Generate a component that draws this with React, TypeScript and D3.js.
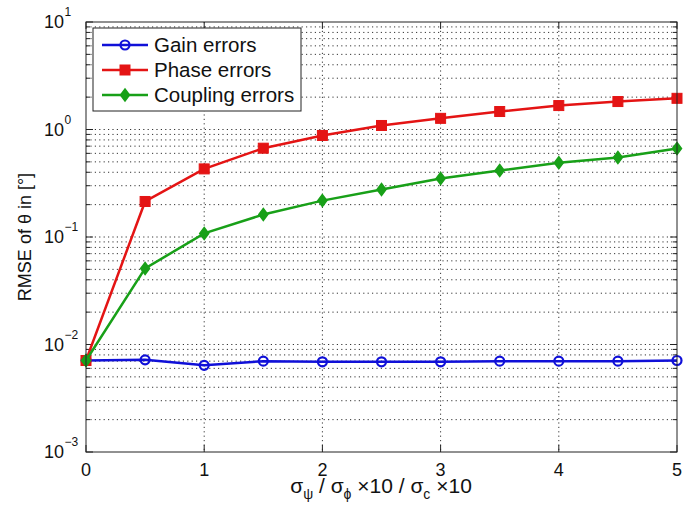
import React from "react";
import * as d3 from "d3";

const xValues = [0, 0.5, 1, 1.5, 2, 2.5, 3, 3.5, 4, 4.5, 5];
const gainErrors = [0.0071, 0.0072, 0.0064, 0.007, 0.0069, 0.0069, 0.0069, 0.007, 0.007, 0.007, 0.0071];
const phaseErrors = [0.0071, 0.214, 0.43, 0.67, 0.88, 1.09, 1.27, 1.47, 1.67, 1.82, 1.95];
const couplingErrors = [0.0071, 0.051, 0.108, 0.162, 0.218, 0.277, 0.35, 0.415, 0.49, 0.55, 0.665];
const xTicks = [0, 1, 2, 3, 4, 5];
const yDecades = [-3, -2, -1, 0, 1];
const legendLabels = ["Gain errors", "Phase errors", "Coupling errors"];

const W = 683;
const H = 508;
const FONT = "'Liberation Sans', Arial, sans-serif";
const BLUE = "#1010d8";
const RED = "#e41414";
const GREEN = "#18a018";

export default function App() {
  const left = 86, right = 677, top = 22, bottom = 452;
  const x = d3.scaleLinear().domain([0, 5]).range([left, right]);
  const y = d3.scaleLog().domain([1e-3, 1e1]).range([bottom, top]);

  const minorVals: number[] = [];
  for (let e = -3; e < 1; e++) {
    for (let m = 2; m <= 9; m++) minorVals.push(m * Math.pow(10, e));
  }
  const majorVals = yDecades.map((e) => Math.pow(10, e));

  const series = [
    { name: legendLabels[0], values: gainErrors, color: BLUE, marker: "circle" },
    { name: legendLabels[1], values: phaseErrors, color: RED, marker: "square" },
    { name: legendLabels[2], values: couplingErrors, color: GREEN, marker: "diamond" },
  ];

  const line = d3
    .line<[number, number]>()
    .x((d) => x(d[0]))
    .y((d) => y(d[1]));

  const marker = (type: string, cx: number, cy: number, color: string, key: any) => {
    if (type === "circle")
      return <circle key={key} cx={cx} cy={cy} r={4.5} fill="none" stroke={color} strokeWidth={2.2} />;
    if (type === "square")
      return <rect key={key} x={cx - 5} y={cy - 5} width={10} height={10} fill={color} stroke={color} strokeWidth={1} />;
    return (
      <path
        key={key}
        d={`M${cx},${cy - 6}L${cx + 4.5},${cy}L${cx},${cy + 6}L${cx - 4.5},${cy}Z`}
        fill={color}
        stroke={color}
        strokeWidth={1.5}
      />
    );
  };

  const gridStyle = { stroke: "#000", strokeWidth: 0.8, strokeDasharray: "1.2,3.2" };

  return (
    <svg width={W} height={H} style={{ position: "absolute", left: 0, top: 0, background: "#fff" }} fontFamily={FONT}>
      <rect x={0} y={0} width={W} height={H} fill="#fff" />
      {/* grid */}
      {xTicks.slice(1, -1).map((t) => (
        <line key={"gx" + t} x1={x(t)} x2={x(t)} y1={top} y2={bottom} {...gridStyle} />
      ))}
      {[...minorVals, ...majorVals.slice(1, -1)].map((v, i) => (
        <line key={"gy" + i} x1={left} x2={right} y1={y(v)} y2={y(v)} {...gridStyle} />
      ))}
      {/* ticks */}
      {xTicks.map((t) => (
        <g key={"tx" + t}>
          <line x1={x(t)} x2={x(t)} y1={bottom} y2={bottom - 7} stroke="#222" />
          <line x1={x(t)} x2={x(t)} y1={top} y2={top + 7} stroke="#222" />
          <text x={x(t)} y={476} textAnchor="middle" fontSize={18} fill="#111">
            {t}
          </text>
        </g>
      ))}
      {minorVals.map((v, i) => (
        <g key={"tm" + i}>
          <line x1={left} x2={left + 4} y1={y(v)} y2={y(v)} stroke="#222" />
          <line x1={right} x2={right - 4} y1={y(v)} y2={y(v)} stroke="#222" />
        </g>
      ))}
      {yDecades.map((e) => {
        const yy = y(Math.pow(10, e));
        return (
          <g key={"ty" + e}>
            <line x1={left} x2={left + 7} y1={yy} y2={yy} stroke="#222" />
            <line x1={right} x2={right - 7} y1={yy} y2={yy} stroke="#222" />
            <text x={64} y={yy + 6} textAnchor="end" fontSize={18} fill="#111">
              10
            </text>
            <text x={64.5} y={yy - 6} textAnchor="start" fontSize={12} fill="#111">
              {e < 0 ? "\u2212" + Math.abs(e) : String(e)}
            </text>
          </g>
        );
      })}
      {/* series */}
      {series.map((s) => {
        const pts = xValues.map((xv, i) => [xv, s.values[i]] as [number, number]);
        return (
          <g key={s.name}>
            <path d={line(pts) || ""} fill="none" stroke={s.color} strokeWidth={2.5} />
            {pts.map((p, i) => marker(s.marker, x(p[0]), y(p[1]), s.color, i))}
          </g>
        );
      })}
      {/* axes box */}
      <rect x={left} y={top} width={right - left} height={bottom - top} fill="none" stroke="#222" strokeWidth={1} />
      {/* legend */}
      <rect x={93} y={28} width={208} height={83} fill="#fff" stroke="#222" strokeWidth={1} />
      {series.map((s, i) => {
        const ly = 45 + i * 25;
        return (
          <g key={"lg" + i}>
            <line x1={102} x2={148} y1={ly} y2={ly} stroke={s.color} strokeWidth={2.5} />
            {marker(s.marker, 125, ly, s.color, "m")}
            <text x={154} y={ly + 7} fontSize={20.5} fill="#111">
              {s.name}
            </text>
          </g>
        );
      })}
      {/* axis labels */}
      <text transform="translate(31,237) rotate(-90)" textAnchor="middle" fontSize={18} fill="#111">
        RMSE of θ in [°]
      </text>
      <text x={381} y={493} textAnchor="middle" fontSize={21} fill="#111">
        σ<tspan dy={6} fontSize={14}>ψ</tspan>
        <tspan dy={-6}> / σ</tspan>
        <tspan dy={6} fontSize={14}>ϕ</tspan>
        <tspan dy={-6}> ×10 / σ</tspan>
        <tspan dy={6} fontSize={14}>c</tspan>
        <tspan dy={-6}> ×10</tspan>
      </text>
    </svg>
  );
}
